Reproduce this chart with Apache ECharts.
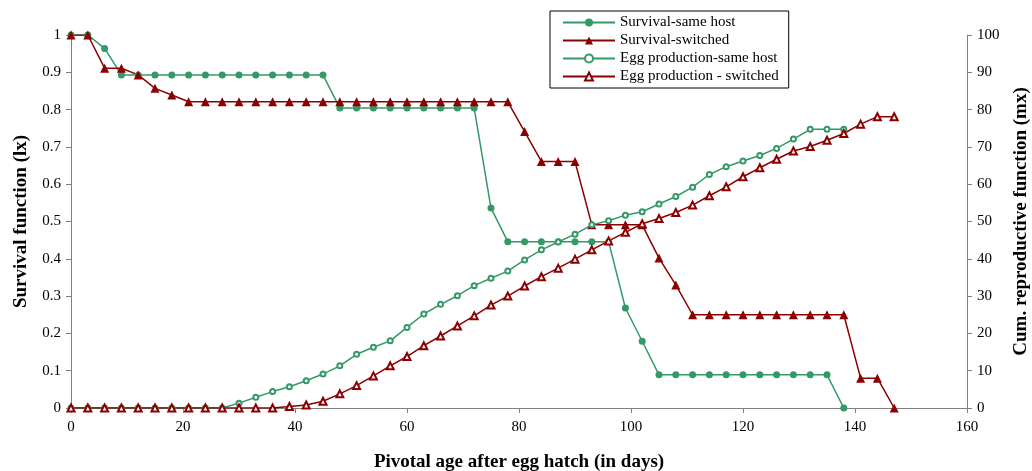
<!DOCTYPE html>
<html>
<head>
<meta charset="utf-8">
<script src="https://cdn.jsdelivr.net/npm/echarts@6/dist/echarts.min.js"></script>
<style>
  html, body { margin: 0; padding: 0; background: #fff; }
  #chart { width: 1032px; height: 471px; }
</style>
</head>
<body>
<div id="chart"></div>
<script>
// days (pivotal age) for each series
const daysSame = [0, 3, 6, 9, 12, 15, 18, 21, 24, 27, 30, 33, 36, 39, 42, 45, 48, 51, 54, 57, 60, 63, 66, 69, 72, 75, 78, 81, 84, 87, 90, 93, 96, 99, 102, 105, 108, 111, 114, 117, 120, 123, 126, 129, 132, 135, 138]
const daysSwitched = [0, 3, 6, 9, 12, 15, 18, 21, 24, 27, 30, 33, 36, 39, 42, 45, 48, 51, 54, 57, 60, 63, 66, 69, 72, 75, 78, 81, 84, 87, 90, 93, 96, 99, 102, 105, 108, 111, 114, 117, 120, 123, 126, 129, 132, 135, 138, 141, 144, 147]

// survival (lx), left axis
const survivalSame = [1, 1, 0.964, 0.893, 0.893, 0.893, 0.893, 0.893, 0.893, 0.893, 0.893, 0.893, 0.893, 0.893, 0.893, 0.893,
  0.804, 0.804, 0.804, 0.804, 0.804, 0.804, 0.804, 0.804, 0.804, 0.536,
  0.446, 0.446, 0.446, 0.446, 0.446, 0.446, 0.446, 0.268, 0.179,
  0.089, 0.089, 0.089, 0.089, 0.089, 0.089, 0.089, 0.089, 0.089, 0.089, 0.089, 0]
const survivalSwitched = [1, 1, 0.911, 0.911, 0.893, 0.857, 0.839,
  0.821, 0.821, 0.821, 0.821, 0.821, 0.821, 0.821, 0.821, 0.821, 0.821,
  0.821, 0.821, 0.821, 0.821, 0.821, 0.821, 0.821, 0.821, 0.821, 0.821,
  0.741, 0.661, 0.661, 0.661, 0.491, 0.491, 0.491, 0.491, 0.402, 0.330,
  0.250, 0.250, 0.250, 0.250, 0.250, 0.250, 0.250, 0.250, 0.250, 0.250, 0.080, 0.080, 0]

// cumulative egg production (mx), right axis
const eggSame = [0, 0, 0, 0, 0, 0, 0, 0, 0, 0, 1.3, 2.9, 4.4, 5.7, 7.3, 9.1, 11.3, 14.4, 16.3, 18.0, 21.6, 25.2, 27.8, 30.1, 32.8, 34.8,
  36.7, 39.7, 42.4, 44.5, 46.6, 49.1, 50.2, 51.7, 52.6, 54.7, 56.7, 59.2, 62.6, 64.7, 66.2, 67.7, 69.6, 72.1, 74.7, 74.7, 74.7]
const eggSwitched = [0, 0, 0, 0, 0, 0, 0, 0, 0, 0, 0, 0, 0, 0.4, 0.8, 1.8, 3.8, 6.0, 8.6, 11.3, 13.8, 16.7, 19.3, 22.0, 24.7, 27.6,
  30.0, 32.7, 35.2, 37.5, 39.9, 42.4, 44.8, 47.1, 49.4, 50.8, 52.4, 54.4, 56.9, 59.3, 62.0, 64.4, 66.7, 68.9, 70.1, 71.8, 73.6, 76.1, 78.1, 78.1]

const names = ['Survival-same host', 'Survival-switched', 'Egg production-same host', 'Egg production - switched']
const green = '#339966'
const red = '#8b0000'
const font = 'Liberation Serif, Times New Roman, serif'

function pairs(xs, ys) {
  return xs.map((x, i) => [x, ys[i]])
}

const axisLine = { show: true, lineStyle: { color: '#808080', width: 1 } }
const axisTick = { show: true, length: 5, lineStyle: { color: '#808080' } }
const axisLabel = { color: '#000', fontFamily: font, fontSize: 15 }
const nameStyle = { color: '#000', fontFamily: font, fontSize: 19, fontWeight: 'bold' }

const option = {
  animation: false,
  backgroundColor: '#fff',
  grid: { left: 71, right: 65, top: 35, bottom: 63, containLabel: false, outerBoundsMode: 'none' },
  legend: {
    orient: 'vertical',
    left: 550,
    top: 11,
    padding: [4, 10, 4, 12],
    itemGap: 3,
    itemWidth: 52,
    itemHeight: 10,
    borderColor: '#000',
    borderWidth: 1,
    backgroundColor: '#fff',
    textStyle: { color: '#000', fontFamily: font, fontSize: 15, lineHeight: 15 },
    data: names
  },
  xAxis: {
    type: 'value',
    min: 0,
    max: 160,
    interval: 20,
    name: 'Pivotal age after egg hatch (in days)',
    nameLocation: 'middle',
    nameGap: 45,
    nameTextStyle: nameStyle,
    axisLine,
    axisTick,
    axisLabel: { ...axisLabel, margin: 12 },
    splitLine: { show: false }
  },
  yAxis: [
    {
      type: 'value',
      min: 0,
      max: 1,
      interval: 0.1,
      name: 'Survival function (lx)',
      nameLocation: 'middle',
      nameRotate: 90,
      nameGap: 40,
      nameTextStyle: nameStyle,
      axisLine,
      axisTick,
      axisLabel: { ...axisLabel, margin: 10 },
      splitLine: { show: false }
    },
    {
      type: 'value',
      min: 0,
      max: 100,
      interval: 10,
      position: 'right',
      name: 'Cum. reproductive function (mx)',
      nameLocation: 'middle',
      nameRotate: 90,
      nameGap: 45,
      nameTextStyle: nameStyle,
      axisLine,
      axisTick,
      axisLabel: { ...axisLabel, margin: 10 },
      splitLine: { show: false }
    }
  ],
  series: [
    {
      name: names[0],
      type: 'line',
      yAxisIndex: 0,
      symbol: 'circle',
      symbolSize: 7,
      lineStyle: { color: green, width: 1.5 },
      itemStyle: { color: green },
      data: pairs(daysSame, survivalSame)
    },
    {
      name: names[1],
      type: 'line',
      yAxisIndex: 0,
      symbol: 'triangle',
      symbolSize: 9,
      lineStyle: { color: red, width: 1.5 },
      itemStyle: { color: red },
      data: pairs(daysSwitched, survivalSwitched)
    },
    {
      name: names[2],
      type: 'line',
      yAxisIndex: 1,
      symbol: 'circle',
      symbolSize: 5,
      lineStyle: { color: green, width: 1.5 },
      itemStyle: { color: '#fff', borderColor: green, borderWidth: 2 },
      data: pairs(daysSame, eggSame)
    },
    {
      name: names[3],
      type: 'line',
      yAxisIndex: 1,
      symbol: 'triangle',
      symbolSize: 7,
      lineStyle: { color: red, width: 1.5 },
      itemStyle: { color: '#fff', borderColor: red, borderWidth: 2 },
      data: pairs(daysSwitched, eggSwitched)
    }
  ]
}

const myChart = echarts.init(document.getElementById('chart'))
myChart.setOption(option)
</script>
</body>
</html>
